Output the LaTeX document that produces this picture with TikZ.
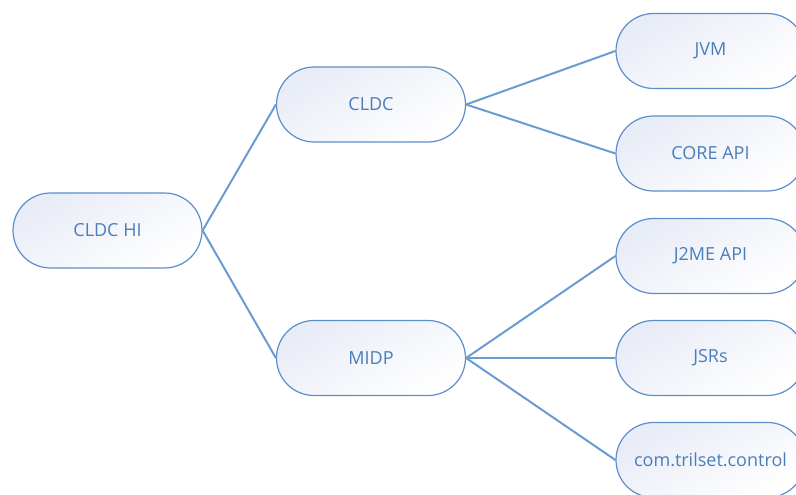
\documentclass[tikz,border=0pt]{standalone}
\usepackage{fontspec}
\setmainfont{Open Sans}
\usetikzlibrary{shapes.misc}
\definecolor{txt}{HTML}{4A7EBB}
\definecolor{edge}{HTML}{5B8FCB}
\definecolor{lnk}{HTML}{6A9BD3}
\definecolor{fillA}{HTML}{E8ECF6}
\tikzset{
  box/.style={rounded rectangle, draw=edge, line width=1.2pt,
    minimum width=189pt, minimum height=75pt, inner sep=0pt,
    top color=fillA, bottom color=white, shading angle=30,
    text=txt, font=\fontsize{18}{20}\selectfont},
  link/.style={draw=lnk, line width=2pt}
}
\begin{document}
\begin{tikzpicture}[x=1pt,y=-1pt]
\useasboundingbox (0,0) rectangle (796,495);
\clip (0,0) rectangle (796,495);
\node[box] (hi) at (107.5,230.5) {CLDC HI};
\node[box] (cldc) at (371,104.5) {CLDC};
\node[box] (midp) at (371,358) {MIDP};
\node[box] (jvm) at (710.5,51) {JVM};
\node[box] (core) at (710.5,153.5) {CORE API};
\node[box] (j2me) at (710.5,256) {J2ME API};
\node[box] (jsr) at (710.5,358) {JSRs};
\node[box] (com) at (710.5,460) {com.trilset.control};
\draw[link] (hi.east) -- (cldc.west);
\draw[link] (hi.east) -- (midp.west);
\draw[link] (cldc.east) -- (jvm.west);
\draw[link] (cldc.east) -- (core.west);
\draw[link] (midp.east) -- (j2me.west);
\draw[link] (midp.east) -- (jsr.west);
\draw[link] (midp.east) -- (com.west);
\end{tikzpicture}
\end{document}
